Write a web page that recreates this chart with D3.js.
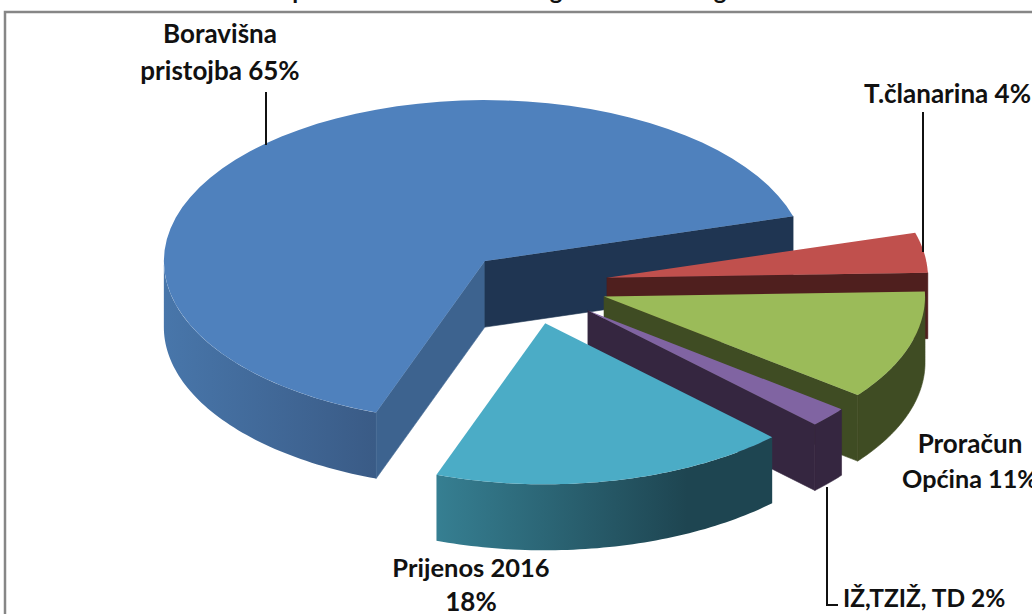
<!DOCTYPE html>
<html><head><meta charset="utf-8">
<script src="https://cdn.jsdelivr.net/npm/d3@7/dist/d3.min.js"></script>
<style>html,body{margin:0;padding:0;background:#fff;overflow:hidden}svg{display:block}
text{font-family:Lato,"Open Sans",sans-serif;font-weight:700;font-size:26px;fill:#111}</style>
</head><body><svg id="c" width="1032" height="614"></svg>
<script>
const categories = ["Boravišna pristojba","T.članarina","Proračun Općina","IŽ,TZIŽ, TD","Prijenos 2016"];
const shares = [65,4,11,2,18];
const topColors = ["#4f81bd","#c0504d","#9bbb59","#8064a2","#4bacc6"];
const faceColors = ["#1f3552","#4f1f1e","#3f4c23","#352640","#1f4552"];
const titleFragments = [["p",299],["g",556],["g",720]];

const W=1032,H=614, rx=321, ry=161, depth=66, cx=527.7, cy=284;
const explode=[0.195,0.25,0.25,0.25,0.25];
const svg=d3.select("#c");
const defs=svg.append("defs");
function grad(id,stops,x1,x2){
  const g=defs.append("linearGradient").attr("id",id).attr("gradientUnits","userSpaceOnUse")
    .attr("x1",x1).attr("x2",x2).attr("y1",0).attr("y2",0);
  stops.forEach(s=>g.append("stop").attr("offset",s[0]).attr("stop-color",s[1]));
}
grad("blueSide",[[0,"#4876aa"],[1,"#3a5b86"]],164,375);
grad("cyanSide",[[0,"#367f92"],[0.75,"#1e4551"],[1,"#1e4551"]],436,771);

// frame
svg.append("path").attr("d","M5,614V12H1032").attr("fill","none").attr("stroke","#868686").attr("stroke-width",2.5);

// clipped title (only descenders are visible in the reference)
svg.selectAll(".ttl").data(titleFragments).join("text").attr("class","ttl")
  .attr("x",d=>d[1]).attr("y",-1).attr("text-anchor","middle").style("font-size","24px").text(d=>d[0]);

const deg=Math.PI/180;
const pie=d3.pie().sort(null).startAngle(199.8*deg).endAngle((199.8+360)*deg);
const arcs=pie(shares);
const yOf=d3.scaleLinear().domain([-1,1]).range([-ry,ry]);
const xOf=d3.scaleLinear().domain([-1,1]).range([-rx,rx]);
const pt=(o,a,dz=0)=>[o[0]+xOf(Math.sin(a)),o[1]+yOf(-Math.cos(a))+dz];
const line=d3.line();

arcs.forEach((d,i)=>{
  const mid=(d.startAngle+d.endAngle)/2, e=explode[i];
  const o=[cx+e*xOf(Math.sin(mid)),cy+e*yOf(-Math.cos(mid))];
  const g=svg.append("g");
  const a0=d.startAngle,a1=d.endAngle;
  const samp=(from,to,dz)=>d3.range(0,61).map(k=>pt(o,from+(to-from)*k/60,dz));

  const walls=[];
  for(const off of [0,2*Math.PI]){
    const s=Math.max(a0,Math.PI/2+off), t=Math.min(a1,1.5*Math.PI+off);
    if(t>s) walls.push([s,t]);
  }
  if(i===1) walls.push([a1-0.02,a1]);
  const wallFill=i===0?"url(#blueSide)":i===4?"url(#cyanSide)":faceColors[i];
  walls.forEach(([s,t])=>{
    const f=i===1?"#8a2f2c":wallFill;
    g.append("path").attr("fill",f).attr("stroke",(i===2||i===3)?f:"none").attr("stroke-width",0.6)
      .attr("d",line(samp(s,t,0).concat(samp(t,s,depth)))+"Z");
  });

  const face=(a,col)=>{
    const p=pt(o,a);
    g.append("path").attr("fill",col).attr("stroke",col).attr("stroke-width",0.6)
      .attr("d",line([o,p,[p[0],p[1]+depth],[o[0],o[1]+depth]])+"Z");
  };
  if(i===0) face(a0,"#3d638f");
  if(i===0) face(a1,faceColors[0]);
  if(i>=1&&i<=3) face(a1,faceColors[i]);

  g.append("path").attr("fill",topColors[i]).attr("d",line([o].concat(samp(a0,a1,0)))+"Z");
});

// leaders
const leaders=[[[266,92],[266,145]],[[923,112],[923,252]],[[827,487],[827,605],[838,605]]];
leaders.forEach(p=>svg.append("path").attr("d",line(p)).attr("fill","none").attr("stroke","#111").attr("stroke-width",2));

// labels
const pct=v=>Math.round(v)+"%";
const labels=[
 ["Boravišna",220,43,"middle",26],["pristojba "+pct(shares[0]),220,80,"middle",26],
 [categories[1]+" "+pct(shares[1]),1031,103,"end",26],
 ["Proračun",970,453,"middle",26],["Općina "+pct(shares[2]),902,488,"start",25.2],
 ["Prijenos 2016",471,577,"middle",25.5],[pct(shares[4]),471,611,"middle",26],
 [categories[3]+" "+pct(shares[3]),843,607,"start",24.5]];
svg.selectAll(".lb").data(labels).join("text").attr("class","lb")
  .attr("x",d=>d[1]).attr("y",d=>d[2]).attr("text-anchor",d=>d[3]).style("font-size",d=>d[4]+"px").text(d=>d[0]);
</script></body></html>
